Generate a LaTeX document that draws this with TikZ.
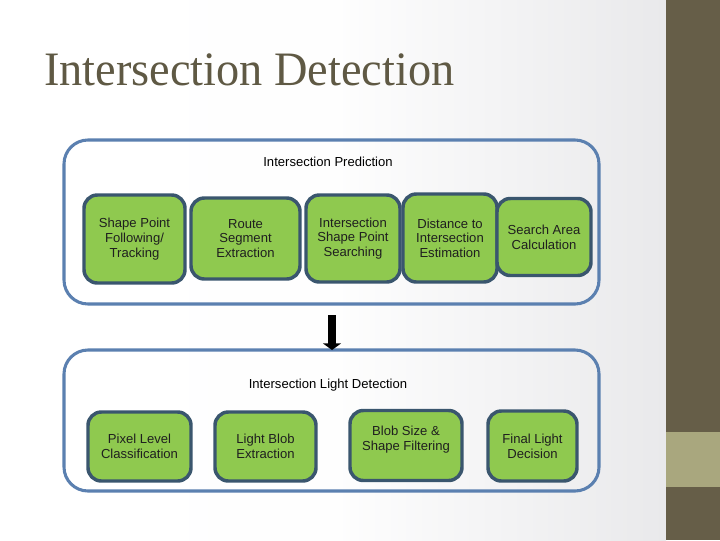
\documentclass[tikz,border=0pt]{standalone}
\usepackage{fontspec}
\setmainfont{Liberation Sans}
\newfontfamily\titlefont[FakeStretch=0.965]{Liberation Serif}
\usetikzlibrary{arrows.meta}
\definecolor{titlecol}{HTML}{5F5944}
\definecolor{barcol}{HTML}{665E48}
\definecolor{bandcol}{HTML}{A9A77E}
\definecolor{framecol}{HTML}{5B80B0}
\definecolor{boxedge}{HTML}{3A566E}
\definecolor{boxfill}{HTML}{8FC94F}
\definecolor{bggray}{HTML}{E9E9EB}
\tikzset{
  frame/.style={draw=framecol, line width=2.3pt, rounded corners=18pt, fill=none},
  stepbox/.style={draw=boxedge, line width=2.6pt, fill=boxfill, rounded corners=10pt,
    align=center, inner sep=0pt, font=\fontsize{9.8pt}{11pt}\selectfont, text=black!88},
  grouplabel/.style={font=\fontsize{9.8pt}{11pt}\selectfont, text=black},
}
\begin{document}
\begin{tikzpicture}[x=0.75pt,y=-0.75pt]
\useasboundingbox (0,0) rectangle (720,540);
% background
\shade[left color=white, right color=bggray, middle color=white!96!bggray] (0,0) rectangle (666,540);
\fill[barcol] (666,0) rectangle (720,540);
\fill[bandcol] (666,432) rectangle (720,487);
% title
\node[anchor=base west, inner sep=0pt, text=titlecol, font=\titlefont\fontsize{36pt}{40pt}\selectfont] (title) at (44,85) {Intersection Detection};
% group frames
\node[frame, minimum width=401.25pt, minimum height=123pt] (pred) at (331.5,222) {};
\node[frame, minimum width=401.25pt, minimum height=105.75pt] (light) at (331.5,420.5) {};
\node[grouplabel] (predlabel) at (328,162) {Intersection Prediction};
\node[grouplabel] (lightlabel) at (328,385) {Intersection Light Detection};
% top row
\node[stepbox, minimum width=75.75pt, minimum height=66pt] (a1) at (134.5,239) {Shape Point\\Following/\\Tracking};
\node[stepbox, minimum width=81.75pt, minimum height=60.75pt] (a2) at (245.5,238.5) {Route\\Segment\\Extraction};
\node[stepbox, minimum width=70.5pt, minimum height=65.25pt] (a3) at (353,238.5) {Intersection\\Shape Point\\Searching};
\node[stepbox, minimum width=70.5pt, minimum height=66pt] (a4) at (450,238) {Distance to\\Intersection\\Estimation};
\node[stepbox, minimum width=70.5pt, minimum height=57.75pt] (a5) at (544,237) {Search Area\\Calculation};
% bottom row
\node[stepbox, minimum width=77.25pt, minimum height=51.75pt] (b1) at (139.5,446.5) {Pixel Level\\Classification};
\node[stepbox, minimum width=75.75pt, minimum height=51.75pt] (b2) at (265.5,446.5) {Light Blob\\Extraction};
\node[stepbox, minimum width=84pt, minimum height=52.5pt] (b3) at (406,445.5) {Blob Size \&\\Shape Filtering\\\mbox{}};
\node[stepbox, minimum width=66.75pt, minimum height=52.5pt] (b4) at (532.5,446) {Final Light\\Decision};
% arrow between groups
\coordinate (arrtop) at (332,315);
\coordinate (arrbot) at (332,350);
\draw[black, line width=6.4pt, -{Triangle[width=13.5pt, length=5pt]}] (arrtop) -- (arrbot);
\end{tikzpicture}
\end{document}
